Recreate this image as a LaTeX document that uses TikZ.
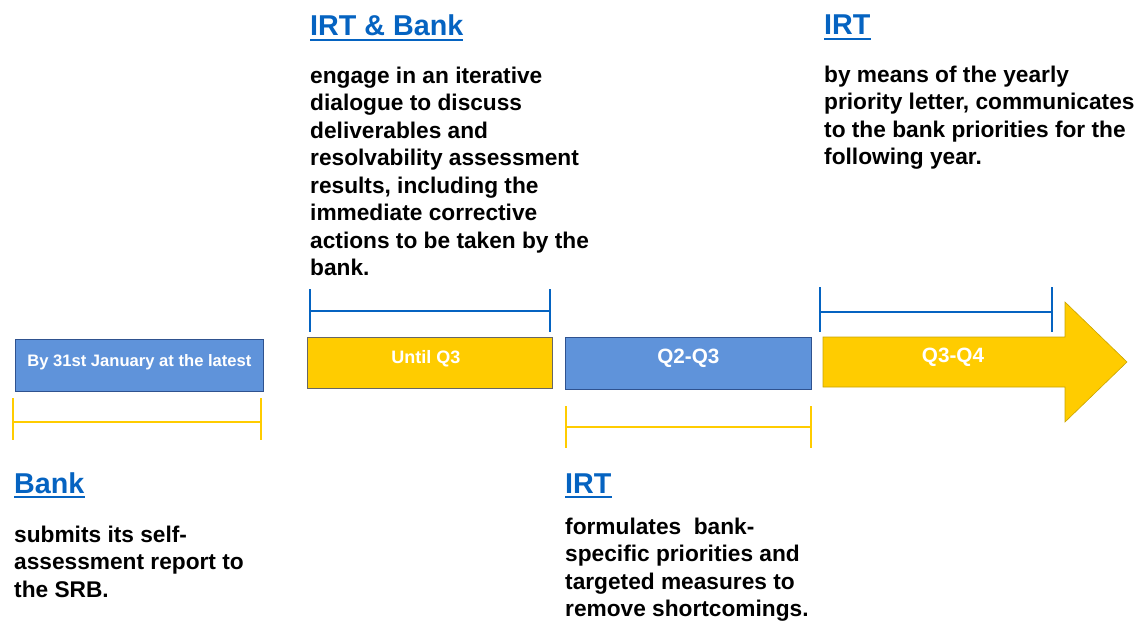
\documentclass[tikz,border=0pt]{standalone}
\usepackage{fontspec}
\setmainfont{Liberation Sans}
\usetikzlibrary{positioning,calc}
\usepackage{xcolor}
\definecolor{srbBlue}{HTML}{5F93DA}
\definecolor{srbBlueEdge}{HTML}{2F528F}
\definecolor{srbGold}{HTML}{FFCC00}
\definecolor{srbGoldEdge}{HTML}{C9A400}
\definecolor{srbLink}{HTML}{0563C1}

\begin{document}
\begin{tikzpicture}[x=1pt,y=-1pt]
\tikzstyle{phase}=[draw=srbBlueEdge,line width=.8pt,inner sep=0pt,anchor=north west]
\tikzstyle{phasetext}=[text=white,font=\bfseries,inner sep=0pt]
\tikzstyle{who}=[anchor=base west,inner sep=0pt,text=srbLink,font=\fontsize{28.7}{34}\selectfont\bfseries]
\tikzstyle{what}=[anchor=north west,inner sep=0pt,align=left,font=\fontsize{22.7}{27.5}\selectfont\bfseries]
\useasboundingbox (0,0) rectangle (1141,623);
% phase boxes
\node[phase,fill=srbBlue,minimum width=248,minimum height=52] (jan) at (15,339) {};
\node[phase,fill=srbGold,draw=gray!80!black,minimum width=245,minimum height=51] (until) at (307,337) {};
\node[phase,fill=srbBlue,minimum width=246,minimum height=52] (q23) at (565,337) {};
\draw[fill=srbGold,draw=srbGoldEdge,line width=.6pt] (823,337) -- (1065,337) -- (1065,302) -- (1127,362) -- (1065,422) -- (1065,387) -- (823,387) -- cycle;
\node[phasetext,font=\fontsize{16.6}{20}\selectfont\bfseries] at ([yshift=3]jan.center) {By 31st January at the latest};
\node[phasetext,font=\fontsize{18}{22}\selectfont\bfseries] at ([xshift=-4,yshift=4]until.center) {Until Q3};
\node[phasetext,font=\fontsize{20.7}{24}\selectfont\bfseries] at ([yshift=5]q23.center) {Q2-Q3};
\node[phasetext,font=\fontsize{20.7}{24}\selectfont\bfseries] (q34) at (953,357) {Q3-Q4};
% brackets: left/right/bar/top/bottom/colour
\foreach \l/\r/\m/\t/\b/\c in {310/550/311/289/332/srbLink,820/1052/312/287/332/srbLink,13/261/422/398/440/srbGold,566/811/427/406/448/srbGold}{
  \draw[\c,line width=2.2pt] (\l,\t) -- (\l,\b) (\r,\t) -- (\r,\b) (\l,\m) -- (\r,\m);}
% who does what
\node[who] (bank) at (14,493) {Bank};
\node[who] (both) at (310,36) {IRT \& Bank};
\node[who] (irtlow) at (565,493) {IRT};
\node[who] (irtup) at (824,35) {IRT};
\foreach \n in {bank,both,irtlow,irtup}{\draw[srbLink,line width=1.8pt] ([yshift=-4]\n.base west) -- ([yshift=-4]\n.base east);}
\node[what] at (14,542-18) {\rule{0pt}{18pt}submits its self-\\assessment report to\\the SRB.};
\node[what] at (310,83-18) {\rule{0pt}{18pt}engage in an iterative\\dialogue to discuss\\deliverables and\\resolvability assessment\\results, including the\\immediate corrective\\actions to be taken by the\\bank.};
\node[what] at (565,534-18) {\rule{0pt}{18pt}formulates\ \ bank-\\specific priorities and\\targeted measures to\\remove shortcomings.};
\node[what] at (824,82-18) {\rule{0pt}{18pt}by means of the yearly\\priority letter, communicates\\to the bank priorities for the\\following year.};
\end{tikzpicture}
\end{document}
